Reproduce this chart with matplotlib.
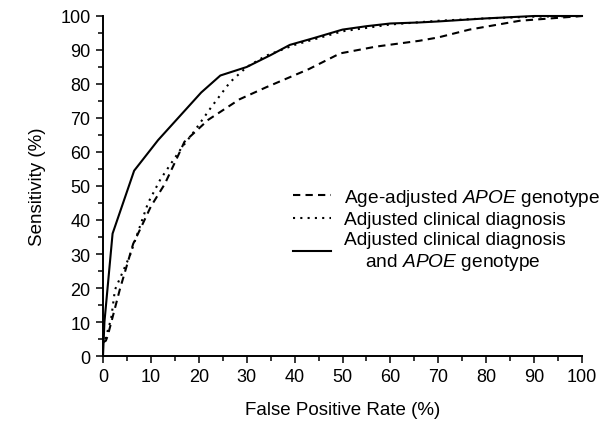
import matplotlib.pyplot as plt
from matplotlib.ticker import MultipleLocator

plt.rcParams['font.family'] = ['Liberation Sans', 'DejaVu Sans']
plt.rcParams['mathtext.fontset'] = 'custom'
plt.rcParams['mathtext.rm'] = 'Liberation Sans'
plt.rcParams['mathtext.it'] = 'Liberation Sans:italic'

# ROC curves (false positive rate %, sensitivity %)
apoe_fpr = [0, 0.6, 1, 3.5, 6.3, 8, 10, 12.9, 15.7, 17, 22, 28.5, 34, 39, 43, 49.5, 57, 66, 70, 76.5, 87, 100]
apoe_sens = [4, 4.5, 6, 19.5, 33, 38, 44, 50.6, 59, 63, 69.5, 75.5, 79, 82, 84.4, 89, 91, 92.7, 93.7, 96, 98.6, 100]

clin_fpr = [0.5, 1.7, 2.5, 5.6, 9.4, 12, 16.3, 19, 22.5, 26.5, 30, 34, 40, 50, 60, 70, 80, 90, 100]
clin_sens = [5, 11, 19.5, 29.5, 45, 52, 61, 66, 73, 80.5, 85, 88.3, 91.5, 95.5, 97.5, 98.6, 99.3, 99.8, 100]

comb_fpr = [0, 0.3, 2, 6.5, 11.5, 16, 20.5, 24.5, 30, 35, 39, 44, 50, 55, 60, 66, 70, 80, 90, 100]
comb_sens = [0, 10, 36, 54.5, 63.5, 70.5, 77.5, 82.5, 85, 88.5, 91.5, 93.5, 96, 97, 97.8, 98.1, 98.4, 99.3, 100, 100]

fig = plt.figure(figsize=(6.1, 4.27), dpi=100)
ax = fig.add_axes([103 / 610, 1 - 357 / 427, (582 - 103) / 610, (357 - 17) / 427])

ax.plot(apoe_fpr, apoe_sens, color='black', lw=1.5, linestyle=(0, (3.5, 2.5)),
        label=r'Age-adjusted $\it{APOE}$ genotype', clip_on=False)
ax.plot(clin_fpr, clin_sens, color='black', lw=1.5, linestyle=(0, (1, 2.5)),
        label='Adjusted clinical diagnosis', clip_on=False)
ax.plot(comb_fpr, comb_sens, color='black', lw=1.5, linestyle='-',
        label='Adjusted clinical diagnosis\n    and ' + r'$\it{APOE}$' + ' genotype', clip_on=False)

ax.set_xlim(0, 100)
ax.set_ylim(0, 100)
ax.xaxis.set_major_locator(MultipleLocator(10))
ax.yaxis.set_major_locator(MultipleLocator(10))
ax.xaxis.set_minor_locator(MultipleLocator(5))
ax.yaxis.set_minor_locator(MultipleLocator(5))

for side in ['top', 'right']:
    ax.spines[side].set_visible(False)
for side in ['left', 'bottom']:
    ax.spines[side].set_linewidth(1.4)

ax.tick_params(which='major', length=5, width=1.1, labelsize=13, pad=4)
ax.tick_params(which='minor', length=3.6, width=1.1)

ax.set_xlabel('False Positive Rate (%)', fontsize=13.5, labelpad=11)
ax.set_ylabel('Sensitivity (%)', fontsize=13.5, labelpad=10)

ax.legend(loc='upper left', bbox_to_anchor=(293 / 610, 1 - 188 / 427),
          bbox_transform=fig.transFigure, frameon=False, fontsize=13.8,
          handlelength=2.0, handletextpad=0.65, labelspacing=0.15,
          borderpad=0, borderaxespad=0)

fig.savefig('out.png', dpi=100)
